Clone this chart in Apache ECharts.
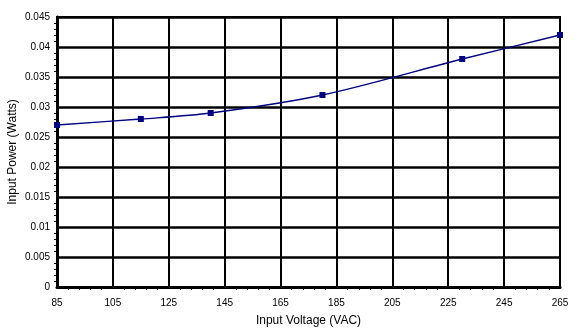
<!DOCTYPE html>
<html><head><meta charset="utf-8">
<script src="https://cdn.jsdelivr.net/npm/echarts@6/dist/echarts.min.js"></script>
<style>html,body{margin:0;padding:0;background:#fff}#c{width:588px;height:330px}</style>
</head><body><div id="c"></div>
<script>
const voltage = [85, 115, 140, 180, 230, 265];
const power = [0.027, 0.028, 0.029, 0.032, 0.038, 0.042];
const xTitle = 'Input Voltage (VAC)';
const yTitle = 'Input Power (Watts)';

const chart = echarts.init(document.getElementById('c'));
const font = 'Liberation Sans, Arial, sans-serif';
chart.setOption({
  animation: false,
  backgroundColor: '#fff',
  grid: {left: 57, right: 28, top: 17, bottom: 43, show: true, borderColor: '#000', borderWidth: 2,
         containLabel: false, outerBoundsMode: 'none'},
  xAxis: {
    type: 'value', min: 85, max: 265, interval: 20,
    name: xTitle, nameLocation: 'middle', nameGap: 28, nameMoveOverlap: false,
    nameTextStyle: {fontFamily: font, fontSize: 12, color: '#000'},
    axisLine: {show: true, lineStyle: {color: '#000', width: 3}},
    axisTick: {show: false},
    minorTick: {show: true, splitNumber: 5, length: 3, lineStyle: {color: '#000', width: 1}},
    axisLabel: {fontFamily: font, fontSize: 10, color: '#000', margin: 11},
    splitLine: {show: true, lineStyle: {color: '#000', width: 2}}
  },
  yAxis: {
    type: 'value', min: 0, max: 0.045, interval: 0.005,
    name: yTitle, nameLocation: 'middle', nameGap: 38, nameMoveOverlap: false,
    nameTextStyle: {fontFamily: font, fontSize: 12, color: '#000'},
    axisLine: {show: true, lineStyle: {color: '#000', width: 3}},
    axisTick: {show: false},
    minorTick: {show: true, splitNumber: 5, length: 3, lineStyle: {color: '#000', width: 1}},
    axisLabel: {fontFamily: font, fontSize: 10, color: '#000', margin: 7,
      formatter: v => String(parseFloat(v.toFixed(4)))},
    splitLine: {show: true, lineStyle: {color: '#000', width: 2.5}}
  },
  series: [{
    type: 'line',
    data: voltage.map((v, i) => [v, power[i]]),
    smooth: 0.3,
    symbol: 'rect', symbolSize: 6,
    itemStyle: {color: '#000080'},
    lineStyle: {color: '#000080', width: 1.3}
  }]
});
</script></body></html>
